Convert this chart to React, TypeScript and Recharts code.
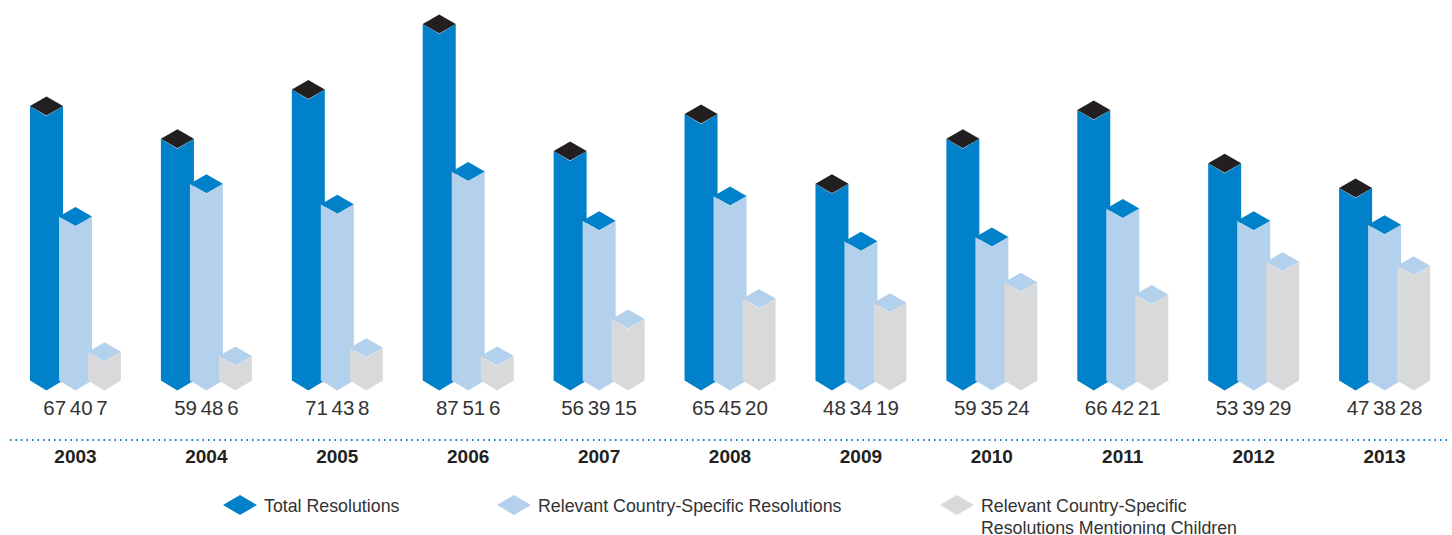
import { BarChart, Bar, XAxis, YAxis, Legend } from 'recharts';

const years = ['2003', '2004', '2005', '2006', '2007', '2008', '2009', '2010', '2011', '2012', '2013'];
const totalResolutions = [67, 59, 71, 87, 56, 65, 48, 59, 66, 53, 47];
const countrySpecific = [40, 48, 43, 51, 39, 45, 34, 35, 42, 39, 38];
const mentioningChildren = [7, 6, 8, 6, 15, 20, 19, 24, 21, 29, 28];

const seriesNames = [
    'Total Resolutions',
    'Relevant Country-Specific Resolutions',
    'Relevant Country-Specific Resolutions Mentioning Children',
];

const BLUE = '#0081c9';
const LIGHT_BLUE = '#b3d0ec';
const GREY = '#d8d9da';
const DARK = '#231f20';
const TEXT = '#333333';
const FONT = '"Liberation Sans", Arial, sans-serif';

const tableData = years.map((year, i) => ({
    year,
    total: totalResolutions[i],
    country: countrySpecific[i],
    children: mentioningChildren[i],
}));

// Column with a pointed foot and a diamond cap
const IsoBar = ({ x, y, width, height, fill, capFill }: any) => {
    const mid = x + width / 2;
    const bottom = y + height;
    const body = `${x},${y} ${mid},${y + 10} ${x + width},${y} ${x + width},${bottom} ${mid},${bottom + 10} ${x},${bottom}`;
    const cap = `${x},${y} ${mid},${y - 9.5} ${x + width},${y} ${mid},${y + 9.5}`;
    return (
        <g>
            <polygon points={body} fill={fill} />
            <polygon points={cap} fill={capFill} />
        </g>
    );
};

// Year under the dotted line, the three values above it
const GroupTick = ({ x, y, payload, index }: any) => (
    <g fontFamily={FONT}>
        <text x={x} y={y - 33} textAnchor="middle" fontSize={20.5} wordSpacing={-2} fill={TEXT}>
            {`${totalResolutions[index]} ${countrySpecific[index]} ${mentioningChildren[index]}`}
        </text>
        <text x={x} y={y + 15} textAnchor="middle" fontSize={19} fontWeight="bold" fill={DARK}>
            {payload.value}
        </text>
    </g>
);

const legendSlots = [
    { left: 223, width: 190 },
    { left: 497, width: 360 },
    { left: 940, width: 310 },
];

const DiamondLegend = ({ payload }: any) => (
    <div style={{ position: 'relative', width: 1452, height: 45 }}>
        {(payload || []).map((item: any, i: number) => (
            <div
                key={item.value}
                style={{
                    position: 'absolute',
                    left: legendSlots[i].left,
                    top: 0,
                    width: legendSlots[i].width,
                    display: 'flex',
                    alignItems: 'flex-start',
                }}
            >
                <svg width={34} height={20} style={{ flex: 'none' }}>
                    <polygon points="0,10 17,0 34,10 17,20" fill={item.color} />
                </svg>
                <span
                    style={{
                        marginLeft: 7,
                        fontFamily: FONT,
                        fontSize: 17.8,
                        lineHeight: '22px',
                        color: TEXT,
                        width: legendSlots[i].width - 41,
                    }}
                >
                    {item.value}
                </span>
            </div>
        ))}
    </div>
);

export default function App() {
    return (
        <div style={{ position: 'absolute', left: 0, top: 0, width: 1452, height: 535, overflow: 'hidden', background: '#fff' }}>
            <BarChart
                width={1452}
                height={535}
                data={tableData}
                margin={{ top: 10, right: 2, bottom: 65, left: 10 }}
                barSize={33}
                barGap={-4}
            >
                <YAxis hide domain={[-14.5, 90.4]} allowDataOverflow />
                <XAxis
                    dataKey="year"
                    height={30}
                    interval={0}
                    tickLine={false}
                    tick={<GroupTick />}
                    axisLine={{ stroke: BLUE, strokeWidth: 2, strokeDasharray: '1.5 4' }}
                />
                <Legend
                    layout="horizontal"
                    verticalAlign="middle"
                    itemSorter={null}
                    wrapperStyle={{ left: 0, top: 495, width: 1452 }}
                    content={<DiamondLegend />}
                />
                <Bar
                    dataKey="total"
                    name={seriesNames[0]}
                    fill={BLUE}
                    isAnimationActive={false}
                    shape={(props: any) => <IsoBar {...props} fill={BLUE} capFill={DARK} />}
                />
                <Bar
                    dataKey="country"
                    name={seriesNames[1]}
                    fill={LIGHT_BLUE}
                    isAnimationActive={false}
                    shape={(props: any) => <IsoBar {...props} fill={LIGHT_BLUE} capFill={BLUE} />}
                />
                <Bar
                    dataKey="children"
                    name={seriesNames[2]}
                    fill={GREY}
                    isAnimationActive={false}
                    shape={(props: any) => <IsoBar {...props} fill={GREY} capFill={LIGHT_BLUE} />}
                />
            </BarChart>
        </div>
    );
}
